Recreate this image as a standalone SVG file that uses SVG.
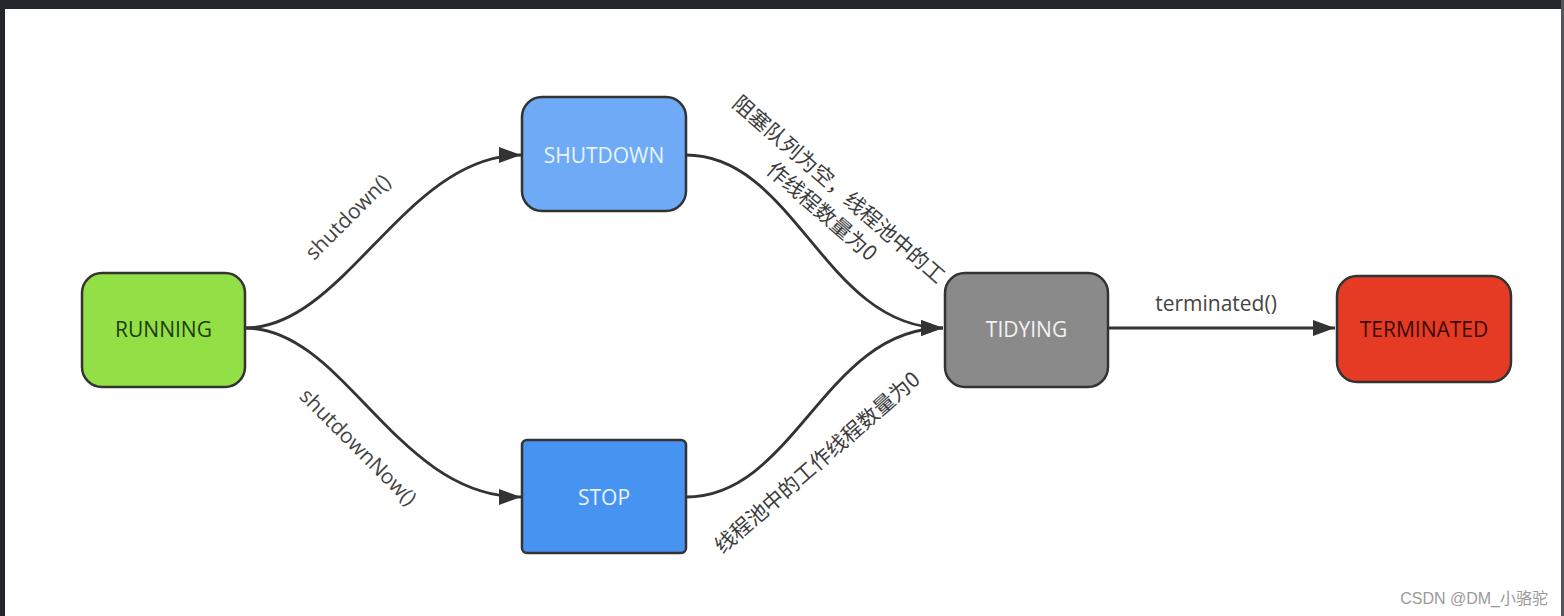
<svg xmlns="http://www.w3.org/2000/svg" width="1564" height="616" viewBox="0 0 1564 616">
<defs>
<style>
.node rect{stroke:#333;stroke-width:2.5}
.lbl{font-family:"Open Sans","Noto Sans","Noto Sans CJK SC",sans-serif;font-size:21px;text-anchor:middle;dominant-baseline:central}
.edge{fill:none;stroke:#333;stroke-width:2.8}
.elbl{font-family:"Open Sans","Noto Sans","Noto Sans CJK SC",sans-serif;font-size:21px;fill:#444;text-anchor:middle}
.cjk{font-family:"Noto Sans CJK SC",sans-serif;font-size:21px;fill:#3c3c3c;text-anchor:middle}
</style>
<marker id="arr" viewBox="0 0 22 16" refX="22" refY="8" markerWidth="22" markerHeight="16" markerUnits="userSpaceOnUse" orient="auto">
<path d="M0,0 L22,8 L0,16 Z" fill="#333"/>
</marker>
</defs>
<rect x="0" y="0" width="1564" height="616" fill="#ffffff"/>
<rect x="0" y="0" width="1564" height="9" fill="#25262b"/>
<rect x="0" y="0" width="5" height="616" fill="#25262b"/>
<rect x="1561" y="0" width="3" height="616" fill="#55565a"/>
<g id="connectors">
<path class="edge" d="M245,328 C345,328 405,155 521,155" marker-end="url(#arr)"/>
<path class="edge" d="M245,328 C345,328 395,497 521,497" marker-end="url(#arr)"/>
<path class="edge" d="M686,155 C795,155 825,328 943,328" marker-end="url(#arr)"/>
<path class="edge" d="M686,497 C795,497 825,328 943,328" marker-end="url(#arr)"/>
<path class="edge" d="M1108,328 L1335,328" marker-end="url(#arr)"/>
<text class="elbl" transform="translate(353,222) rotate(-45)">shutdown()</text>
<text class="elbl" transform="translate(353,452) rotate(45)">shutdownNow()</text>
<text class="cjk" transform="translate(834,195) rotate(41)">阻塞队列为空，线程池中的工</text>
<text class="cjk" transform="translate(817,217) rotate(41)">作线程数量为0</text>
<text class="cjk" transform="translate(822,468) rotate(-41)">线程池中的工作线程数量为0</text>
<text class="elbl" x="1216" y="311">terminated()</text>
</g>
<g id="running" class="node">
<rect x="82" y="273" width="163" height="114" rx="20" fill="#92e045"/>
<text class="lbl" x="163.5" y="329" fill="#1f3a10">RUNNING</text>
</g>
<g id="shutdown" class="node">
<rect x="522" y="97" width="164" height="114" rx="20" fill="#6eaaf5"/>
<text class="lbl" x="604" y="155" fill="#e8f4ff">SHUTDOWN</text>
</g>
<g id="stop" class="node">
<rect x="522" y="440" width="164" height="113" rx="5" fill="#4793f2"/>
<text class="lbl" x="604" y="497" fill="#e8f4ff">STOP</text>
</g>
<g id="tidying" class="node">
<rect x="945" y="273" width="163" height="114" rx="20" fill="#8a8a8a"/>
<text class="lbl" x="1026.5" y="329" fill="#f2f2f2">TIDYING</text>
</g>
<g id="terminated" class="node">
<rect x="1337" y="276" width="174" height="106" rx="20" fill="#e53a24"/>
<text class="lbl" x="1424" y="329" fill="#3a0a05">TERMINATED</text>
</g>
<text x="1548" y="604" font-family="'Liberation Sans','Noto Sans CJK SC',sans-serif" font-size="16" fill="#9a9a9a" text-anchor="end">CSDN @DM_小骆驼</text>
</svg>
